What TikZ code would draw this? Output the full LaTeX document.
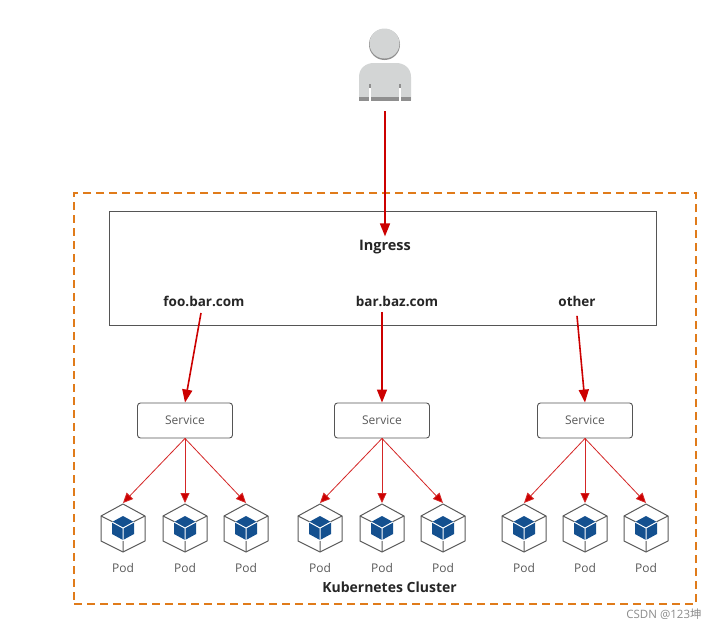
\documentclass[tikz,border=0pt]{standalone}
\usepackage{fontspec}
\setmainfont{Open Sans}
\newfontfamily\cjkfont{Noto Sans CJK SC}
\usetikzlibrary{arrows.meta}
\definecolor{redline}{HTML}{CC0000}
\definecolor{orangedash}{HTML}{E07B1A}
\definecolor{podblue}{HTML}{14508F}
\definecolor{hexgray}{HTML}{5A5A5A}
\definecolor{textgray}{HTML}{5A5A5A}
\definecolor{boxgray}{HTML}{555555}
\definecolor{userlight}{HTML}{D3D5D5}
\definecolor{userdark}{HTML}{8F8F8F}
\tikzset{
  x=1pt,y=-1pt,
  heavyarrow/.style={draw=redline,line width=1.6pt,-{Triangle[length=13pt,width=10pt,fill=redline]}},
  lightarrow/.style={draw=redline!85!white,line width=0.8pt,-{Triangle[length=10pt,width=9pt,fill=redline]}},
  servicebox/.style={draw=boxgray,line width=0.9pt,rounded corners=3pt,minimum width=95pt,minimum height=35pt,inner sep=0pt,font=\fontsize{12}{14}\selectfont,text=textgray},
  podnode/.style={minimum width=44pt,minimum height=48pt,inner sep=0pt,outer sep=1pt},
  podlabel/.style={inner sep=0pt,font=\fontsize{12}{14}\selectfont,text=textgray},
  boldlabel/.style={inner sep=3pt,font=\bfseries\fontsize{13.5}{16}\selectfont,text=black!85},
  hexline/.style={draw=hexgray,line width=1pt,line join=round},
  pics/podicon/.style={code={
    \draw[hexline] (0,-24)--(22,-12)--(22,13)--(0,24)--(-22,13)--(-22,-12)--cycle;
    \draw[hexline] (-22,-12)--(-10,-6) (22,-12)--(10,-6) (0,24)--(0,13);
    \fill[podblue] (0,-12)--(11,-6)--(11,6)--(0,12)--(-11,6)--(-11,-6)--cycle;
    \draw[white,line width=1pt] (-11,-6)--(0,0)--(11,-6) (0,0)--(0,12);
  }}
}
\begin{document}
\begin{tikzpicture}
\useasboundingbox (0,0) rectangle (718,629);
\fill[white] (0,0) rectangle (718,629);

% user
\fill[userdark] (384.5,44.5) circle (15.5);
\fill[userlight] (384.5,43.5) circle (15);
\fill[userlight] (359,100) -- (359,77) .. controls (359,68) and (366,63) .. (374,63) -- (396,63) .. controls (404,63) and (411,68) .. (411,77) -- (411,100) -- cycle;
\fill[userdark] (359,97) rectangle (411,100.5);
\fill[userdark] (369,84) rectangle (371,88);
\fill[userdark] (399,84) rectangle (401,88);
\fill[white] (369.3,88) rectangle (370.7,101);
\fill[white] (399.3,88) rectangle (400.7,101);
\coordinate (userfoot) at (385,111);

% cluster frame
\node[draw=orangedash,line width=1.5pt,dash pattern=on 8pt off 5pt,minimum width=622pt,minimum height=411pt,inner sep=0pt] (cluster) at (385,398.5) {};
\node[boldlabel,inner sep=0pt,font=\bfseries\fontsize{14}{16}\selectfont] (clusterlabel) at (389.5,587) {Kubernetes Cluster};

% ingress
\node[draw=boxgray,line width=0.9pt,minimum width=547pt,minimum height=114pt,inner sep=0pt] (ingress) at (383,268) {};
\node[boldlabel,inner sep=4pt,font=\bfseries\fontsize{14.5}{17}\selectfont] (inglabel) at (385,247.5) {Ingress};
\node[boldlabel] (foo) at (204,301.5) {foo.bar.com};
\node[boldlabel] (baz) at (397,301.5) {bar.baz.com};
\node[boldlabel] (other) at (577,301.5) {other};

% services
\node[servicebox] (svcA) at (185,420.5) {Service};
\node[servicebox] (svcB) at (382,420.5) {Service};
\node[servicebox] (svcC) at (585,420.5) {Service};

% pods
\foreach \nm/\px in {a1/123,a2/185,a3/246,b1/320,b2/382,b3/443,c1/524,c2/585,c3/646}{
  \node[podnode] (pod\nm) at (\px,528) {};
  \pic at (\px,528) {podicon};
  \node[podlabel] (lab\nm) at (\px,567.5) {Pod};
}

% connectors
\draw[heavyarrow] (userfoot) -- (inglabel.north);
\draw[heavyarrow] ([xshift=-3pt,yshift=-3pt]foo.south) -- (svcA.north);
\draw[heavyarrow] ([xshift=-15pt,yshift=-2pt]baz.south) -- (svcB.north);
\draw[heavyarrow] ([yshift=-6pt]other.south) -- (svcC.north);
\foreach \s/\t in {A/a,B/b,C/c}{
  \foreach \i in {1,2,3}{
    \draw[lightarrow] (svc\s.south) -- (pod\t\i.north);
  }
}

% watermark
\node[inner sep=0pt,text=black!45,font=\fontsize{11.5}{14}\selectfont] (mark) at (664,614) {CSDN @123{\cjkfont 坤}};
\end{tikzpicture}
\end{document}
